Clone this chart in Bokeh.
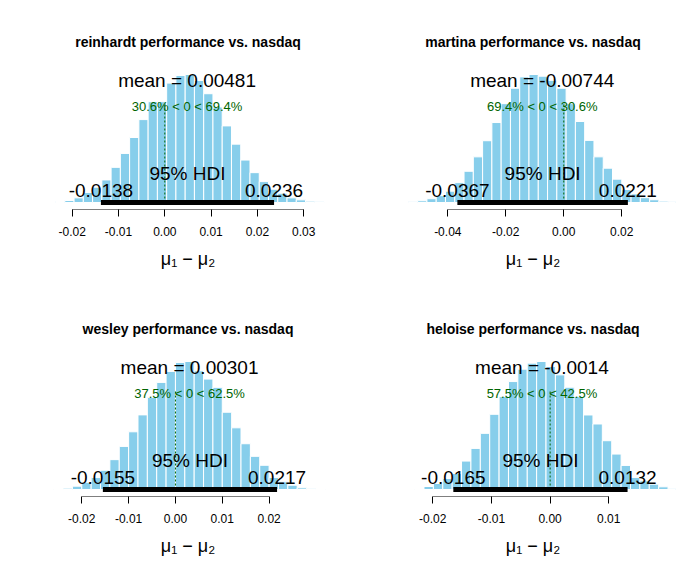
from bokeh.plotting import figure
from bokeh.layouts import gridplot
from bokeh.models import FixedTicker
from bokeh.embed import file_html
from bokeh.resources import INLINE
from bokeh.core.properties import value

titles = ["reinhardt performance vs. nasdaq", "martina performance vs. nasdaq",
          "wesley performance vs. nasdaq", "heloise performance vs. nasdaq"]
bin_start = [-0.0236, -0.0536, -0.026, -0.0231]
bin_width = [0.002, 0.0032, 0.002, 0.0016]
counts1 = [3,6,14,30,46,68,106,148,196,250,304,304,360,383,386,368,328,288,231,176,128,90,63,40,28,14,8,4,2]
counts2 = [2,5,11,20,33,58,91,133,180,233,288,333,366,373,368,356,333,288,236,181,133,100,68,38,25,14,8,4,2]
counts3 = [1,4,10,22,36,58,90,130,174,225,278,323,356,383,386,358,333,308,233,186,138,100,73,36,23,13,5,2,1]
counts4 = [1,9,18,33,48,85,123,168,225,278,323,360,378,383,368,343,306,278,223,196,146,106,72,36,26,16,8,2]
counts = [counts1, counts2, counts3, counts4]
means = ["0.00481", "-0.00744", "0.00301", "-0.0014"]
mean_x = [0.00481, -0.00744, 0.00301, -0.0014]
pct = ["30.6% < 0 < 69.4%", "69.4% < 0 < 30.6%", "37.5% < 0 < 62.5%", "57.5% < 0 < 42.5%"]
hdi_lo = [-0.0138, -0.0367, -0.0155, -0.0165]
hdi_hi = [0.0236, 0.0221, 0.0217, 0.0132]
ticks = [[-0.02, -0.01, 0.0, 0.01, 0.02, 0.03],
         [-0.04, -0.02, 0.0, 0.02],
         [-0.02, -0.01, 0.0, 0.01, 0.02],
         [-0.02, -0.01, 0.0, 0.01]]
tick_labels = [["-0.02", "-0.01", "0.00", "0.01", "0.02", "0.03"],
               ["-0.04", "-0.02", "0.00", "0.02"],
               ["-0.02", "-0.01", "0.00", "0.01", "0.02"],
               ["-0.02", "-0.01", "0.00", "0.01"]]
xranges = [(-0.02577, 0.03579), (-0.05976, 0.03852), (-0.02775, 0.03311), (-0.02721, 0.02137)]

FONT = "Liberation Sans"
figs = []
for k in range(4):
    c = counts[k]
    peak = max(c)
    per_px = peak / 128.0
    p = figure(width=345, height=287, output_backend="svg", toolbar_location=None,
               x_range=xranges[k], y_range=(-7 * per_px, 149 * per_px),
               min_border_left=45, min_border_right=15, min_border_top=53, min_border_bottom=78)
    p.title.text = titles[k]
    p.title.align = "center"
    p.title.text_font = FONT
    p.title.text_font_size = "14px"
    p.title.text_font_style = "bold"
    p.title.text_color = "black"
    p.title.offset = 0
    p.title.standoff = 8
    p.outline_line_color = None
    p.grid.visible = False
    p.yaxis.visible = False
    ax = p.xaxis[0]
    ax.ticker = FixedTicker(ticks=ticks[k])
    ax.major_label_overrides = {t: l for t, l in zip(ticks[k], tick_labels[k])}
    ax.axis_line_color = None
    ax.minor_tick_line_color = None
    ax.major_tick_out = 7
    ax.major_tick_in = 0
    ax.major_tick_line_color = "black"
    ax.major_label_text_font = FONT
    ax.major_label_text_font_size = "12px"
    ax.major_label_text_color = "black"
    ax.major_label_standoff = 10
    ax.axis_label = "μ₁ − μ₂"
    ax.axis_label_text_font = FONT
    ax.axis_label_text_font_size = "18px"
    ax.axis_label_text_font_style = "normal"
    ax.axis_label_text_color = "black"
    ax.axis_label_standoff = 10

    lefts = [bin_start[k] + i * bin_width[k] for i in range(len(c))]
    rights = [l + bin_width[k] for l in lefts]
    p.quad(left=lefts, right=rights, bottom=0, top=c, fill_color="#87CEEB",
           line_color="white", line_width=1)
    y0 = -7 * per_px
    p.segment(x0=[ticks[k][0]], x1=[ticks[k][-1]], y0=[y0], y1=[y0], line_color="black", line_width=1)
    p.segment(x0=[0], x1=[0], y0=[0], y1=[0.78 * peak], line_color="darkgreen",
              line_dash="2 2", line_width=1)
    p.segment(x0=[hdi_lo[k]], x1=[hdi_hi[k]], y0=[0], y1=[0], line_color="black", line_width=5)
    p.text(x=[mean_x[k]], y=[0.95 * peak], text=["mean = " + means[k]], text_align="center",
           text_baseline="middle", text_font=value(FONT), text_font_size="19px", text_color="black")
    p.text(x=[mean_x[k]], y=[0.75 * peak], text=[pct[k]], text_align="center",
           text_baseline="middle", text_font=value(FONT), text_font_size="13px", text_color="darkgreen")
    p.text(x=[(hdi_lo[k] + hdi_hi[k]) / 2], y=[0.23 * peak], text=["95% HDI"], text_align="center",
           text_baseline="middle", text_font=value(FONT), text_font_size="19px", text_color="black")
    p.text(x=[hdi_lo[k], hdi_hi[k]], y=[0.09 * peak, 0.09 * peak],
           text=[str(hdi_lo[k]), str(hdi_hi[k])], text_align="center",
           text_baseline="middle", text_font=value(FONT), text_font_size="19px", text_color="black")
    figs.append(p)

grid = gridplot([[figs[0], figs[1]], [figs[2], figs[3]]], toolbar_location=None)
open("out.html", "w").write(file_html(grid, INLINE))
